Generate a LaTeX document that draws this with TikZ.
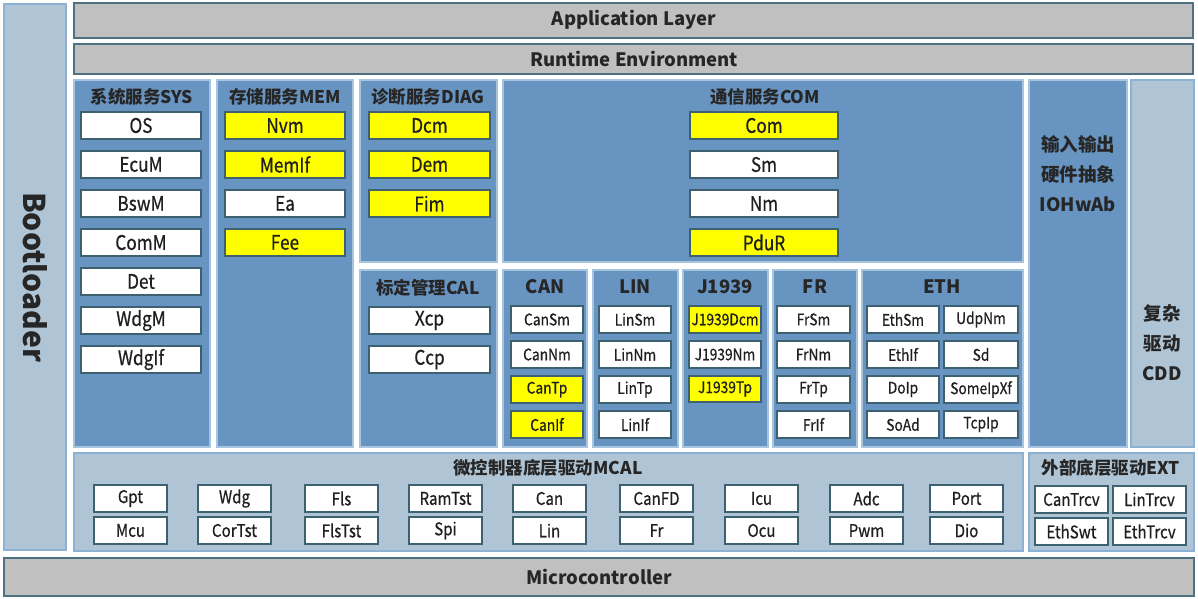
\documentclass[tikz,border=0pt]{standalone}
\usepackage{fontspec}
\setmainfont{Noto Sans CJK SC}
\newfontfamily\narrowf{Noto Sans CJK SC}[FakeStretch=0.86,FakeBold=0.6]
\definecolor{pblue}{HTML}{6894C1}
\definecolor{pbord}{HTML}{A8C5E0}
\definecolor{lfill}{HTML}{AFC4D4}
\definecolor{lbord}{HTML}{8DB1D4}
\definecolor{gfill}{HTML}{C0C0C0}
\definecolor{gbord}{HTML}{4E7080}
\definecolor{bbord}{HTML}{3E6172}
\definecolor{ylw}{HTML}{FFFF00}
\newcommand\mybox[7]{\node[#1,anchor=north west,minimum width=#5pt,minimum height=#6pt] (#2) at (#3,#4) {#7};}
\tikzset{
  base/.style={rectangle,inner sep=0pt,outer sep=0pt},
  grayp/.style={base,fill=gfill,draw=gbord,line width=1.8pt},
  bluep/.style={base,fill=pblue,draw=pbord,line width=1.6pt},
  lightp/.style={base,fill=lfill,draw=lbord,line width=1.6pt},
  wbox/.style={base,fill=white,draw=bbord,line width=1.4pt,text=black!88,font=\narrowf\fontsize{20}{20}\selectfont},
  ybox/.style={wbox,fill=ylw},
  swbox/.style={wbox,font=\narrowf\fontsize{16}{16}\selectfont},
  sybox/.style={swbox,fill=ylw},
  mbox/.style={wbox,font=\narrowf\fontsize{17.5}{17.5}\selectfont},
  ttl/.style={inner sep=0pt,font=\fontsize{17.5}{17.5}\selectfont\bfseries,text=black!85},
  bigt/.style={inner sep=0pt,font=\fontsize{18.5}{18.5}\selectfont\bfseries,text=black!85}
}
\begin{document}
\begin{tikzpicture}[x=1pt,y=-1pt]
\useasboundingbox (0,0) rectangle (1198,599);
% big layers
\mybox{lightp}{boot}{4}{4}{62}{546}{}
\node[bigt,font=\fontsize{30}{30}\selectfont\bfseries,rotate=-90] (bootT) at (35,277) {Bootloader};
\mybox{grayp}{app}{74}{3}{1119}{35}{}
\node[bigt] (appT) at (634,20) {Application Layer};
\mybox{grayp}{rte}{74}{44}{1119}{30}{}
\node[bigt] (rteT) at (634,59) {Runtime Environment};
\mybox{grayp}{mc}{4}{558}{1190}{38}{}
\node[bigt] (mcT) at (599,577) {Microcontroller};
% panels
\mybox{bluep}{sys}{74}{80}{136}{367}{}
\mybox{bluep}{mem}{217}{80}{136}{367}{}
\mybox{bluep}{diag}{360}{80}{137}{182}{}
\mybox{bluep}{com}{503}{80}{520}{182}{}
\mybox{bluep}{cal}{360}{270}{137}{177}{}
\mybox{bluep}{can}{503}{270}{84}{177}{}
\mybox{bluep}{lin}{593}{270}{85}{177}{}
\mybox{bluep}{jp}{683}{270}{85}{177}{}
\mybox{bluep}{fr}{773}{270}{84}{177}{}
\mybox{bluep}{eth}{862}{270}{161}{177}{}
\mybox{bluep}{io}{1029}{80}{98}{367}{}
\mybox{lightp}{cdd}{1131}{80}{63}{367}{}
\mybox{lightp}{mcal}{74}{453}{949}{98}{}
\mybox{lightp}{ext}{1029}{453}{165}{98}{}
% titles
\node[ttl] (sysT) at (142,97) {系统服务SYS};
\node[ttl] (memT) at (285,97) {存储服务MEM};
\node[ttl] (diagT) at (428,97) {诊断服务DIAG};
\node[ttl] (comT) at (765,97) {通信服务COM};
\node[ttl] (calT) at (428,288) {标定管理CAL};
\node[ttl,font=\fontsize{18.5}{18.5}\selectfont\bfseries] (canT) at (545,287) {CAN};
\node[ttl,font=\fontsize{18.5}{18.5}\selectfont\bfseries] (linT) at (635,287) {LIN};
\node[ttl,font=\fontsize{18.5}{18.5}\selectfont\bfseries] (jpT) at (725,287) {J1939};
\node[ttl,font=\fontsize{18.5}{18.5}\selectfont\bfseries] (frT) at (815,287) {FR};
\node[ttl,font=\fontsize{18.5}{18.5}\selectfont\bfseries] (ethT) at (942,287) {ETH};
\node[ttl,align=center,font=\fontsize{18.5}{30}\selectfont\bfseries] (ioT) at (1078,174) {输入输出\\硬件抽象\\IOHwAb};
\node[ttl,align=center,font=\fontsize{18.5}{30}\selectfont\bfseries] (cddT) at (1162,343) {复杂\\驱动\\CDD};
\node[ttl] (mcalT) at (548,468) {微控制器底层驱动MCAL};
\node[ttl] (extT) at (1111,468) {外部底层驱动EXT};
% SYS
\mybox{wbox}{os}{81}{112}{120}{27}{OS}
\mybox{wbox}{ecum}{81}{151}{120}{27}{EcuM}
\mybox{wbox}{bswm}{81}{190}{120}{27}{BswM}
\mybox{wbox}{comm}{81}{229}{120}{27}{ComM}
\mybox{wbox}{det}{81}{268}{120}{27}{Det}
\mybox{wbox}{wdgm}{81}{307}{120}{27}{WdgM}
\mybox{wbox}{wdgif}{81}{346}{120}{27}{WdgIf}
% MEM
\mybox{ybox}{nvm}{225}{112}{120}{27}{Nvm}
\mybox{ybox}{memif}{225}{151}{120}{27}{MemIf}
\mybox{wbox}{ea}{225}{190}{120}{27}{Ea}
\mybox{ybox}{fee}{225}{229}{120}{27}{Fee}
% DIAG
\mybox{ybox}{dcm}{369}{112}{121}{27}{Dcm}
\mybox{ybox}{dem}{369}{151}{121}{27}{Dem}
\mybox{ybox}{fim}{369}{190}{121}{27}{Fim}
% COM
\mybox{ybox}{comb}{690}{112}{148}{27}{Com}
\mybox{wbox}{sm}{690}{151}{148}{27}{Sm}
\mybox{wbox}{nm}{690}{190}{148}{27}{Nm}
\mybox{ybox}{pdur}{690}{229}{148}{27}{PduR}
% CAL
\mybox{wbox}{xcp}{369}{307}{121}{27}{Xcp}
\mybox{wbox}{ccp}{369}{346}{121}{27}{Ccp}
% CAN
\mybox{swbox}{cansm}{511}{306}{72}{27}{CanSm}
\mybox{swbox}{cannm}{511}{341}{72}{27}{CanNm}
\mybox{sybox}{cantp}{511}{376}{72}{27}{CanTp}
\mybox{sybox}{canif}{511}{411}{72}{27}{CanIf}
% LIN
\mybox{swbox}{linsm}{599}{306}{72}{27}{LinSm}
\mybox{swbox}{linnm}{599}{341}{72}{27}{LinNm}
\mybox{swbox}{lintp}{599}{376}{72}{27}{LinTp}
\mybox{swbox}{linif}{599}{411}{72}{27}{LinIf}
% J1939
\mybox{sybox}{jdcm}{689}{306}{72}{27}{J1939Dcm}
\mybox{swbox}{jnm}{689}{341}{72}{27}{J1939Nm}
\mybox{sybox}{jtp}{689}{376}{72}{26}{J1939Tp}
% FR
\mybox{swbox}{frsm}{777}{306}{73}{27}{FrSm}
\mybox{swbox}{frnm}{777}{341}{73}{27}{FrNm}
\mybox{swbox}{frtp}{777}{376}{73}{27}{FrTp}
\mybox{swbox}{frif}{777}{411}{73}{27}{FrIf}
% ETH
\mybox{swbox}{ethsm}{867}{306}{72}{27}{EthSm}
\mybox{swbox}{ethif}{867}{341}{72}{27}{EthIf}
\mybox{swbox}{doip}{867}{376}{72}{27}{DoIp}
\mybox{swbox}{soad}{867}{411}{72}{27}{SoAd}
\mybox{swbox}{udpnm}{944}{306}{74}{27}{UdpNm}
\mybox{swbox}{sd}{944}{341}{74}{27}{Sd}
\mybox{swbox}{someip}{944}{376}{74}{27}{SomeIpXf}
\mybox{swbox}{tcpip}{944}{411}{74}{27}{TcpIp}
% MCAL
\mybox{mbox}{gpt}{94}{485}{73}{27}{Gpt}
\mybox{mbox}{wdg}{198}{485}{73}{27}{Wdg}
\mybox{mbox}{fls}{305}{485}{73}{27}{Fls}
\mybox{mbox}{ramtst}{409}{485}{73}{27}{RamTst}
\mybox{mbox}{canm}{513}{485}{73}{27}{Can}
\mybox{mbox}{canfd}{620}{485}{73}{27}{CanFD}
\mybox{mbox}{icu}{725}{485}{73}{27}{Icu}
\mybox{mbox}{adc}{830}{485}{73}{27}{Adc}
\mybox{mbox}{port}{930}{485}{73}{27}{Port}
\mybox{mbox}{mcu}{94}{517}{73}{27}{Mcu}
\mybox{mbox}{cortst}{198}{517}{73}{27}{CorTst}
\mybox{mbox}{flstst}{305}{517}{73}{27}{FlsTst}
\mybox{mbox}{spi}{409}{517}{73}{27}{Spi}
\mybox{mbox}{linm}{513}{517}{73}{27}{Lin}
\mybox{mbox}{frm}{620}{517}{73}{27}{Fr}
\mybox{mbox}{ocu}{725}{517}{73}{27}{Ocu}
\mybox{mbox}{pwm}{830}{517}{73}{27}{Pwm}
\mybox{mbox}{dio}{930}{517}{73}{27}{Dio}
% EXT
\mybox{mbox}{cantrcv}{1035}{486}{73}{27}{CanTrcv}
\mybox{mbox}{lintrcv}{1113}{486}{73}{27}{LinTrcv}
\mybox{mbox}{ethswt}{1035}{518}{73}{27}{EthSwt}
\mybox{mbox}{ethtrcv}{1113}{518}{73}{27}{EthTrcv}
\end{tikzpicture}
\end{document}
